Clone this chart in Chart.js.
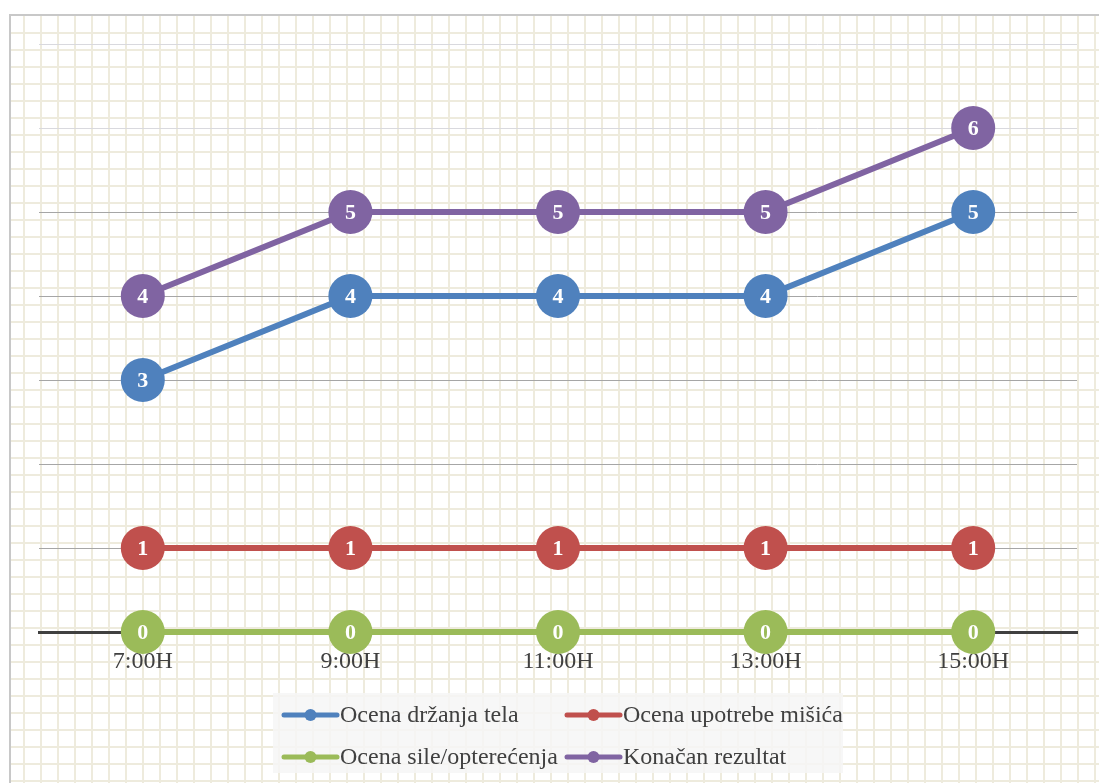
<!DOCTYPE html>
<html>
<head>
    <title>Ocena rizika</title>
    <script src="https://cdn.jsdelivr.net/npm/chart.js"></script>
    <style>
        body {
            margin: 0;
            background: #ffffff;
        }

        .chart-container {
            width: 1099px;
            height: 783px;
            position: relative;
        }
    </style>
</head>
<body>
    <div class="chart-container">
        <canvas id="score-chart"></canvas>
    </div>

    <script>
        const categories = ['7:00H', '9:00H', '11:00H', '13:00H', '15:00H'];
        const drzanjaTela = [3, 4, 4, 4, 5];
        const upotrebeMisica = [1, 1, 1, 1, 1];
        const sileOpterecenja = [0, 0, 0, 0, 0];
        const konacanRezultat = [4, 5, 5, 5, 6];

        const serif = "'Liberation Serif', 'Times New Roman', serif";

        // graph paper background + frame
        const paperPlugin = {
            id: 'paper',
            beforeDraw(chart) {
                const ctx = chart.ctx;
                const w = chart.width, h = chart.height;
                ctx.save();
                ctx.fillStyle = '#ffffff';
                ctx.fillRect(0, 0, w, h);
                ctx.strokeStyle = '#eeebdd';
                ctx.lineWidth = 2;
                for (let x = 24; x < w; x += 17) {
                    ctx.beginPath();
                    ctx.moveTo(x, 16);
                    ctx.lineTo(x, h);
                    ctx.stroke();
                }
                for (let y = 33; y < h; y += 17) {
                    ctx.beginPath();
                    ctx.moveTo(11, y);
                    ctx.lineTo(w, y);
                    ctx.stroke();
                }
                ctx.strokeStyle = '#c8c8c8';
                ctx.lineWidth = 2;
                ctx.beginPath();
                ctx.moveTo(w, 15);
                ctx.lineTo(10, 15);
                ctx.lineTo(10, h);
                ctx.stroke();
                ctx.restore();
            }
        };

        // numbers inside the markers
        const valueLabels = {
            id: 'valueLabels',
            afterDatasetsDraw(chart) {
                const ctx = chart.ctx;
                ctx.save();
                ctx.fillStyle = '#ffffff';
                ctx.font = 'bold 22px ' + serif;
                ctx.textAlign = 'center';
                ctx.textBaseline = 'middle';
                chart.data.datasets.forEach((ds, i) => {
                    const meta = chart.getDatasetMeta(i);
                    meta.data.forEach((pt, j) => {
                        ctx.fillText(String(ds.data[j]), pt.x, pt.y + 1);
                    });
                });
                ctx.restore();
            }
        };

        // two column legend in a light box
        const boxLegend = {
            id: 'boxLegend',
            afterDraw(chart) {
                const ctx = chart.ctx;
                const area = chart.chartArea;
                const mid = (area.left + area.right) / 2;
                const boxW = 570;
                const left = mid - boxW / 2;
                const top = area.bottom + 61;
                ctx.save();
                ctx.fillStyle = 'rgba(246, 246, 246, 0.85)';
                ctx.fillRect(left, top, boxW, 80);
                [0, 1, 2, 3].forEach((i, k) => {
                    const ds = chart.data.datasets[i];
                    const x = left + 9 + (k % 2) * 283;
                    const y = area.bottom + 83 + Math.floor(k / 2) * 42;
                    ctx.strokeStyle = ds.borderColor;
                    ctx.lineWidth = 5;
                    ctx.lineCap = 'round';
                    ctx.beginPath();
                    ctx.moveTo(x + 2, y);
                    ctx.lineTo(x + 55, y);
                    ctx.stroke();
                    ctx.fillStyle = ds.borderColor;
                    ctx.beginPath();
                    ctx.arc(x + 28.5, y, 6, 0, Math.PI * 2);
                    ctx.fill();
                    ctx.fillStyle = '#404040';
                    ctx.font = '24px ' + serif;
                    ctx.textAlign = 'left';
                    ctx.textBaseline = 'middle';
                    ctx.fillText(ds.label, x + 58, y + 1);
                });
                ctx.restore();
            }
        };

        function series(label, data, color) {
            return {
                label: label,
                data: data,
                borderColor: color,
                backgroundColor: color,
                borderWidth: 6,
                pointRadius: 22,
                pointHoverRadius: 22,
                pointBorderWidth: 0,
                tension: 0,
                clip: false
            };
        }

        const ctx = document.getElementById('score-chart').getContext('2d');
        const scoreChart = new Chart(ctx, {
            type: 'line',
            data: {
                labels: categories,
                datasets: [
                    series('Ocena držanja tela', drzanjaTela, '#4f81bd'),
                    series('Ocena upotrebe mišića', upotrebeMisica, '#c0504d'),
                    series('Ocena sile/opterećenja', sileOpterecenja, '#9bbb59'),
                    series('Konačan rezultat', konacanRezultat, '#8064a2')
                ]
            },
            options: {
                responsive: true,
                maintainAspectRatio: false,
                animation: false,
                layout: {
                    padding: { left: 39, right: 19, top: 44, bottom: 0 }
                },
                plugins: {
                    legend: { display: false },
                    tooltip: { enabled: false }
                },
                scales: {
                    x: {
                        offset: true,
                        grid: { display: false, drawTicks: false },
                        border: { color: '#404040', width: 3 },
                        ticks: {
                            color: '#404040',
                            padding: 15,
                            font: { family: serif, size: 24 }
                        },
                        afterFit(scale) {
                            scale.height = 151;
                        }
                    },
                    y: {
                        min: 0,
                        max: 7,
                        ticks: { display: false, stepSize: 1 },
                        border: { display: false },
                        grid: {
                            drawTicks: false,
                            lineWidth: 1,
                            color: c => c.tick.value >= 6 ? '#d9d9de' : '#a6a6a6'
                        },
                        afterFit(scale) {
                            scale.width = 0;
                        }
                    }
                }
            },
            plugins: [paperPlugin, valueLabels, boxLegend]
        });
    </script>
</body>
</html>
